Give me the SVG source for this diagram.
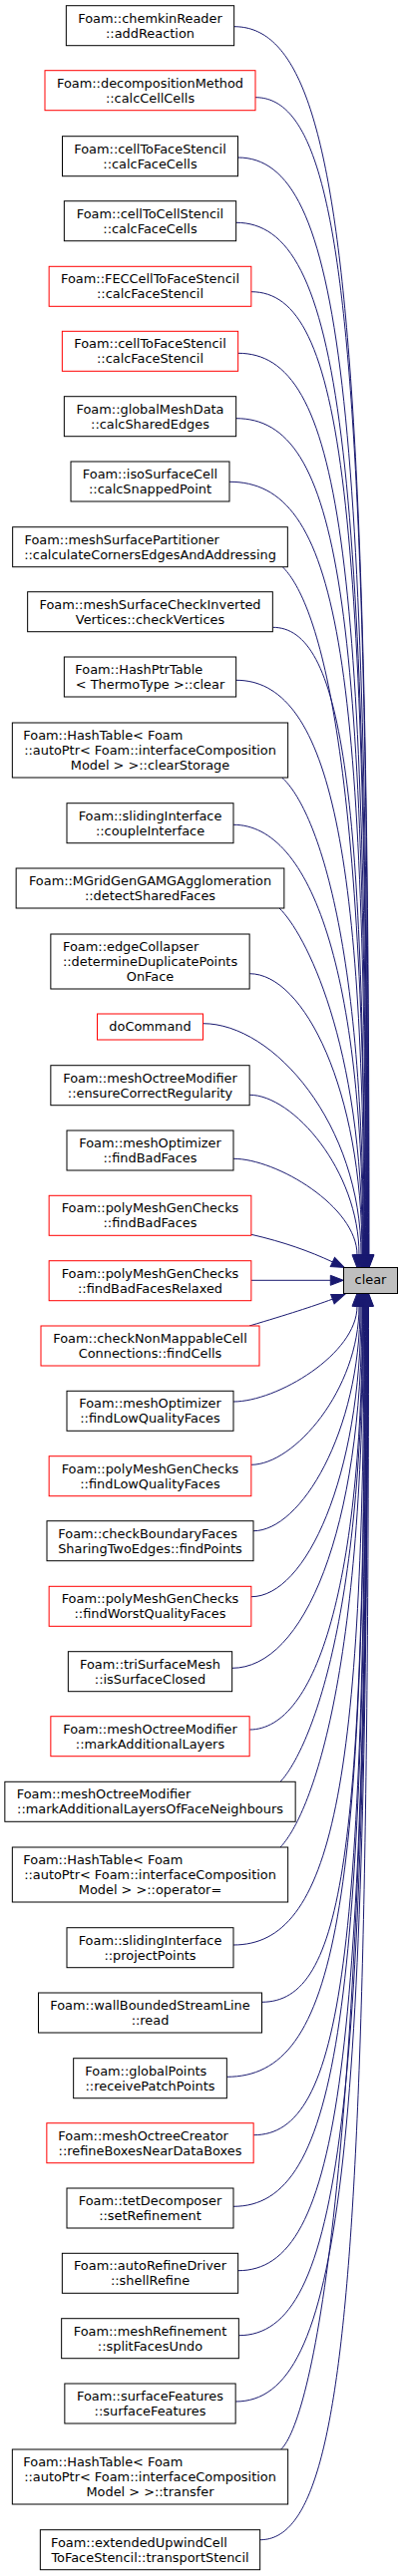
<svg xmlns="http://www.w3.org/2000/svg" width="404" height="2584" viewBox="0 0 404 2584">
<style>
.b rect{fill:#fff;stroke:#000;stroke-width:1}
.r rect{fill:#fff;stroke:#ff0000;stroke-width:1}
text{font-family:"DejaVu Sans",sans-serif;font-size:12.9px;fill:#000;text-anchor:middle}
text.l{text-anchor:start}
#edges path{fill:none;stroke:#191970;stroke-width:1;marker-end:url(#ah)}
</style>
<defs>
<marker id="ah" markerWidth="14" markerHeight="12" refX="0" refY="5" orient="auto" markerUnits="userSpaceOnUse" overflow="visible">
<path d="M0,0 L13,5 L0,10 Z" fill="#191970" stroke="#191970" stroke-width="1"/>
</marker>
</defs>
<rect width="404" height="2584" fill="#fff"/>
<g id="edges">
<path d="M234.7,26.7 C343,26.7 370,297.7 370,1258.7"/>
<path d="M256,97.7 C346.8,97.7 369.5,353.1 369.5,1258.7"/>
<path d="M238.5,158 C343,158 369,400.2 369,1258.7"/>
<path d="M236.7,223.3 C342.1,223.3 368.5,451.1 368.5,1258.7"/>
<path d="M251.9,292.7 C344.8,292.7 368,505.2 368,1258.7"/>
<path d="M238.7,354.3 C341.7,354.3 367.5,553.3 367.5,1258.7"/>
<path d="M236.7,419.7 C340.9,419.7 367,604.3 367,1258.7"/>
<path d="M230,483.3 C339.2,483.3 366.5,653.9 366.5,1258.7"/>
<path d="M283.3,568.7 C313,598 366,721 366,1258.7"/>
<path d="M273.4,629.3 C342.2,629.3 365.5,788.5 365.5,1258.7"/>
<path d="M236.7,682.3 C327.4,682.3 365,842.5 365,1258.7"/>
<path d="M282.7,780 C312,806 364.5,923.6 364.5,1258.7"/>
<path d="M234,827.3 C311.8,827.3 364,976.1 364,1258.7"/>
<path d="M280,911 C305,935 363.5,1043.6 363.5,1258.7"/>
<path d="M250.2,976.7 C304.9,976.7 363,1093.7 363,1258.7"/>
<path d="M203.5,1026.7 C274.6,1026.7 362,1128.3 362,1258.7"/>
<path d="M250.2,1098.3 C293.5,1098.3 360,1174 360,1258.7"/>
<path d="M234,1162.3 C277.4,1162.3 358,1210.5 358,1258.7"/>
<path d="M251.9,1238.3 C285,1246 310,1255 333.4,1265.9"/>
<path d="M251.9,1284.3 L331.3,1284.3"/>
<path d="M250,1330 C290,1318 312,1311 333.4,1303.1"/>
<path d="M234,1406 C277.4,1406 358,1358.2 358,1310.3"/>
<path d="M251.9,1469.3 C294.6,1469.3 360,1394.3 360,1310.3"/>
<path d="M254,1535.7 C301.5,1535.7 361,1436.3 361,1310.3"/>
<path d="M251.9,1601.7 C306.3,1601.7 362,1481.9 362,1310.3"/>
<path d="M232.7,1673.3 C304,1673.3 363,1536.4 363,1310.3"/>
<path d="M250.2,1735 C317.3,1735 363.5,1586.8 363.5,1310.3"/>
<path d="M281,1787.3 C305,1762 364,1643.9 364,1310.3"/>
<path d="M281,1853 C307,1826 364.5,1700.9 364.5,1310.3"/>
<path d="M234,1951 C332.9,1951 365,1792.1 365,1310.3"/>
<path d="M262.5,2008.3 C344.9,2008.3 365.5,1854.7 365.5,1310.3"/>
<path d="M227.4,2083.3 C338.3,2083.3 366,1913.2 366,1310.3"/>
<path d="M254.2,2141.7 C344.1,2141.7 366.5,1958.8 366.5,1310.3"/>
<path d="M234,2213.3 C340.4,2213.3 367,2014.6 367,1310.3"/>
<path d="M238.7,2277.7 C341.7,2277.7 367.5,2064.9 367.5,1310.3"/>
<path d="M239.4,2342.7 C342.3,2342.7 368,2115.6 368,1310.3"/>
<path d="M236.2,2409 C342,2409 368.5,2167.3 368.5,1310.3"/>
<path d="M281.7,2457 C310,2430 369,2204.5 369,1310.3"/>
<path d="M260.7,2547.7 C347.7,2547.7 369.5,2274.7 369.5,1310.3"/>
</g>
<g id="clear"><rect x="344.5" y="1271.5" width="54" height="26" fill="#bfbfbf" stroke="#000"/><text x="371.5" y="1288">clear</text></g>
<g id="n1" class="b"><rect x="66.35" y="5.7" width="168.3" height="40"/><text x="150.5" y="22.7">Foam::chemkinReader</text><text x="150.5" y="37.7">::addReaction</text></g>
<g id="n2" class="r"><rect x="45" y="70.7" width="211" height="40"/><text x="150.5" y="87.7">Foam::decompositionMethod</text><text x="150.5" y="102.7">::calcCellCells</text></g>
<g id="n3" class="b"><rect x="62.5" y="136.7" width="176" height="40"/><text x="150.5" y="153.7">Foam::cellToFaceStencil</text><text x="150.5" y="168.7">::calcFaceCells</text></g>
<g id="n4" class="b"><rect x="64.35" y="201.7" width="172.3" height="40"/><text x="150.5" y="218.7">Foam::cellToCellStencil</text><text x="150.5" y="233.7">::calcFaceCells</text></g>
<g id="n5" class="r"><rect x="49.15" y="267.3" width="202.7" height="40"/><text x="150.5" y="284.3">Foam::FECCellToFaceStencil</text><text x="150.5" y="299.3">::calcFaceStencil</text></g>
<g id="n6" class="r"><rect x="62.35" y="332.3" width="176.3" height="40"/><text x="150.5" y="349.3">Foam::cellToFaceStencil</text><text x="150.5" y="364.3">::calcFaceStencil</text></g>
<g id="n7" class="b"><rect x="64.35" y="397.7" width="172.3" height="40"/><text x="150.5" y="414.7">Foam::globalMeshData</text><text x="150.5" y="429.7">::calcSharedEdges</text></g>
<g id="n8" class="b"><rect x="71" y="463" width="159" height="40"/><text x="150.5" y="480">Foam::isoSurfaceCell</text><text x="150.5" y="495">::calcSnappedPoint</text></g>
<g id="n9" class="b"><rect x="12.65" y="528.7" width="275.7" height="40"/><text class="l" x="24.5" y="545.7">Foam::meshSurfacePartitioner</text><text x="150.5" y="560.7">::calculateCornersEdgesAndAddressing</text></g>
<g id="n10" class="b"><rect x="27.65" y="593.7" width="245.7" height="40"/><text x="150.5" y="610.7">Foam::meshSurfaceCheckInverted</text><text x="150.5" y="625.7">Vertices::checkVertices</text></g>
<g id="n11" class="b"><rect x="64.35" y="659" width="172.3" height="40"/><text class="l" x="75.3" y="676">Foam::HashPtrTable</text><text x="150.5" y="691">&lt; ThermoType &gt;::clear</text></g>
<g id="n12" class="b"><rect x="12.35" y="725" width="276.3" height="55"/><text class="l" x="23.3" y="742">Foam::HashTable&lt; Foam</text><text x="150.5" y="757">::autoPtr&lt; Foam::interfaceComposition</text><text x="150.5" y="772">Model &gt; &gt;::clearStorage</text></g>
<g id="n13" class="b"><rect x="67" y="805.7" width="167" height="40"/><text x="150.5" y="822.7">Foam::slidingInterface</text><text x="150.5" y="837.7">::coupleInterface</text></g>
<g id="n14" class="b"><rect x="16.15" y="871" width="268.7" height="40"/><text x="150.5" y="888">Foam::MGridGenGAMGAgglomeration</text><text x="150.5" y="903">::detectSharedFaces</text></g>
<g id="n15" class="b"><rect x="50.85" y="937" width="199.3" height="55"/><text class="l" x="63" y="954">Foam::edgeCollapser</text><text x="150.5" y="969">::determineDuplicatePoints</text><text x="150.5" y="984">OnFace</text></g>
<g id="n16" class="r"><rect x="97.5" y="1017" width="106" height="26"/><text x="150.5" y="1033.5">doCommand</text></g>
<g id="n17" class="b"><rect x="50.85" y="1068.7" width="199.3" height="40"/><text x="150.5" y="1085.7">Foam::meshOctreeModifier</text><text x="150.5" y="1100.7">::ensureCorrectRegularity</text></g>
<g id="n18" class="b"><rect x="67" y="1134" width="167" height="40"/><text x="150.5" y="1151">Foam::meshOptimizer</text><text x="150.5" y="1166">::findBadFaces</text></g>
<g id="n19" class="r"><rect x="49.15" y="1199.3" width="202.7" height="40"/><text x="150.5" y="1216.3">Foam::polyMeshGenChecks</text><text x="150.5" y="1231.3">::findBadFaces</text></g>
<g id="n20" class="r"><rect x="49.15" y="1264.7" width="202.7" height="40"/><text x="150.5" y="1281.7">Foam::polyMeshGenChecks</text><text x="150.5" y="1296.7">::findBadFacesRelaxed</text></g>
<g id="n21" class="r"><rect x="41" y="1330" width="219" height="40"/><text x="150.5" y="1347">Foam::checkNonMappableCell</text><text x="150.5" y="1362">Connections::findCells</text></g>
<g id="n22" class="b"><rect x="67" y="1395.3" width="167" height="40"/><text x="150.5" y="1412.3">Foam::meshOptimizer</text><text x="150.5" y="1427.3">::findLowQualityFaces</text></g>
<g id="n23" class="r"><rect x="49.15" y="1460.7" width="202.7" height="40"/><text x="150.5" y="1477.7">Foam::polyMeshGenChecks</text><text x="150.5" y="1492.7">::findLowQualityFaces</text></g>
<g id="n24" class="b"><rect x="47" y="1525.7" width="207" height="40"/><text class="l" x="58.3" y="1542.7">Foam::checkBoundaryFaces</text><text x="150.5" y="1557.7">SharingTwoEdges::findPoints</text></g>
<g id="n25" class="r"><rect x="49.15" y="1591.3" width="202.7" height="40"/><text x="150.5" y="1608.3">Foam::polyMeshGenChecks</text><text x="150.5" y="1623.3">::findWorstQualityFaces</text></g>
<g id="n26" class="b"><rect x="68.35" y="1656.7" width="164.3" height="40"/><text x="150.5" y="1673.7">Foam::triSurfaceMesh</text><text x="150.5" y="1688.7">::isSurfaceClosed</text></g>
<g id="n27" class="r"><rect x="50.85" y="1721.7" width="199.3" height="40"/><text x="150.5" y="1738.7">Foam::meshOctreeModifier</text><text x="150.5" y="1753.7">::markAdditionalLayers</text></g>
<g id="n28" class="b"><rect x="4.85" y="1787.3" width="291.3" height="40"/><text class="l" x="16.7" y="1804.3">Foam::meshOctreeModifier</text><text x="150.5" y="1819.3">::markAdditionalLayersOfFaceNeighbours</text></g>
<g id="n29" class="b"><rect x="12.35" y="1853" width="276.3" height="55"/><text class="l" x="23.3" y="1870">Foam::HashTable&lt; Foam</text><text x="150.5" y="1885">::autoPtr&lt; Foam::interfaceComposition</text><text x="150.5" y="1900">Model &gt; &gt;::operator=</text></g>
<g id="n30" class="b"><rect x="67" y="1933.7" width="167" height="40"/><text x="150.5" y="1950.7">Foam::slidingInterface</text><text x="150.5" y="1965.7">::projectPoints</text></g>
<g id="n31" class="b"><rect x="38.5" y="1999" width="224" height="40"/><text x="150.5" y="2016">Foam::wallBoundedStreamLine</text><text x="150.5" y="2031">::read</text></g>
<g id="n32" class="b"><rect x="73.65" y="2064.7" width="153.7" height="40"/><text class="l" x="85.3" y="2081.7">Foam::globalPoints</text><text x="150.5" y="2096.7">::receivePatchPoints</text></g>
<g id="n33" class="r"><rect x="46.85" y="2129.7" width="207.3" height="40"/><text class="l" x="58.3" y="2146.7">Foam::meshOctreeCreator</text><text x="150.5" y="2161.7">::refineBoxesNearDataBoxes</text></g>
<g id="n34" class="b"><rect x="67" y="2195" width="167" height="40"/><text x="150.5" y="2212">Foam::tetDecomposer</text><text x="150.5" y="2227">::setRefinement</text></g>
<g id="n35" class="b"><rect x="62.35" y="2260.3" width="176.3" height="40"/><text x="150.5" y="2277.3">Foam::autoRefineDriver</text><text x="150.5" y="2292.3">::shellRefine</text></g>
<g id="n36" class="b"><rect x="61.65" y="2325.7" width="177.7" height="40"/><text x="150.5" y="2342.7">Foam::meshRefinement</text><text x="150.5" y="2357.7">::splitFacesUndo</text></g>
<g id="n37" class="b"><rect x="64.85" y="2391" width="171.3" height="40"/><text x="150.5" y="2408">Foam::surfaceFeatures</text><text x="150.5" y="2423">::surfaceFeatures</text></g>
<g id="n38" class="b"><rect x="12.35" y="2457" width="276.3" height="55"/><text class="l" x="23.3" y="2474">Foam::HashTable&lt; Foam</text><text x="150.5" y="2489">::autoPtr&lt; Foam::interfaceComposition</text><text x="150.5" y="2504">Model &gt; &gt;::transfer</text></g>
<g id="n39" class="b"><rect x="40.35" y="2537.7" width="220.3" height="40"/><text class="l" x="51" y="2554.7">Foam::extendedUpwindCell</text><text x="150.5" y="2569.7">ToFaceStencil::transportStencil</text></g>
</svg>
